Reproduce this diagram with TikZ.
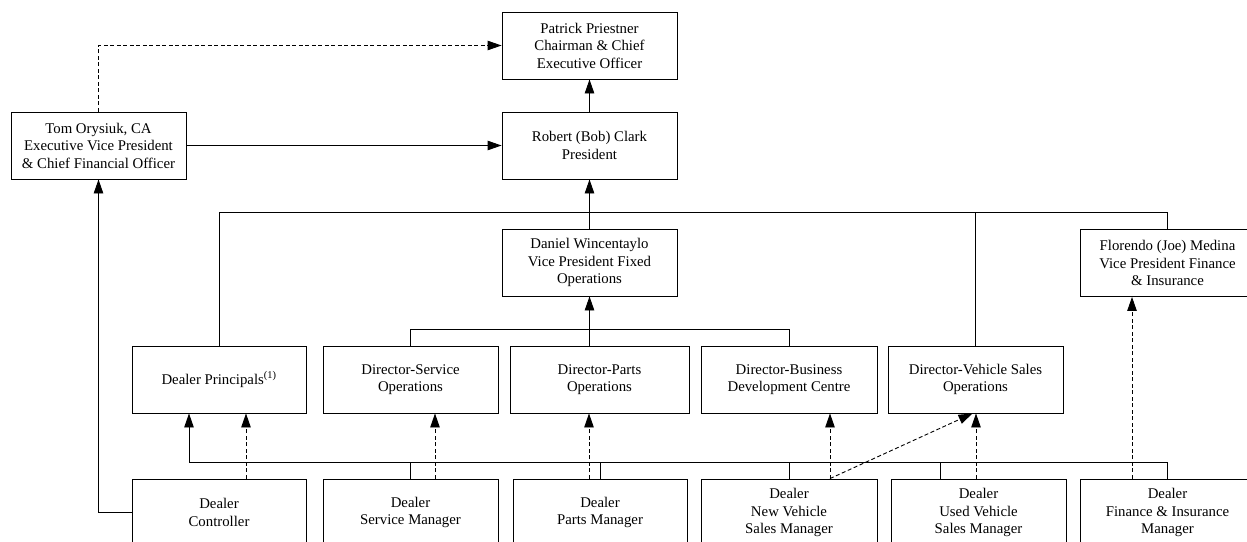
\documentclass[tikz,border=0pt]{standalone}
\usepackage{fontspec}
\setmainfont{Liberation Serif}
\newfontfamily\tmsfont{Liberation Serif}
\usetikzlibrary{arrows.meta,calc}
\begin{document}
\begin{tikzpicture}[x=1pt,y=-1pt,
  box/.style={draw,line width=0.9pt,minimum height=67pt,inner sep=0pt,align=center,
    font=\tmsfont\fontsize{14.8}{17.5}\selectfont},
  conn/.style={line width=0.9pt},
  arr/.style={conn,-{Triangle[length=14pt,width=9.5pt]}},
  dsh/.style={arr,dash pattern=on 4pt off 2.5pt}]
\useasboundingbox (0,0) rectangle (1247,541);
\clip (0,0) rectangle (1247,541);
% nodes
\node[box,minimum width=175pt] (pat) at (589.5,45.5) {Patrick Priestner\\Chairman \& Chief\\Executive Officer};
\node[box,minimum width=175pt] (rob) at (589.5,145.5) {Robert (Bob) Clark\\President};
\node[box,minimum width=175pt] (tom) at (98.5,145.5) {Tom Orysiuk, CA\\Executive Vice President\\\& Chief Financial Officer};
\node[box,minimum width=175pt] (dan) at (589.5,262.5) {Daniel Wincentaylo\\Vice President Fixed\\Operations};
\node[box,minimum width=175pt] (flo) at (1167.5,263) {Florendo (Joe) Medina\\Vice President Finance\\\& Insurance};
\node[box,minimum width=174pt] (dp) at (219,379.5) {Dealer Principals\textsuperscript{(1)}};
\node[box,minimum width=175pt] (dso) at (410.5,379.5) {Director-Service\\Operations};
\node[box,minimum width=179pt] (dpo) at (599.5,379.5) {Director-Parts\\Operations};
\node[box,minimum width=176pt] (dbd) at (789,379.5) {Director-Business\\Development Centre};
\node[box,minimum width=175pt] (dvs) at (975.5,379.5) {Director-Vehicle Sales\\Operations};
\node[box,minimum width=174pt] (dc) at (219,512.5) {Dealer\\Controller};
\node[box,minimum width=175pt] (dsm) at (410.5,512.5) {Dealer\\Service Manager};
\node[box,minimum width=174pt] (dpm) at (600,512.5) {Dealer\\Parts Manager};
\node[box,minimum width=176pt] (dnv) at (789,512.5) {Dealer\\New Vehicle\\Sales Manager};
\node[box,minimum width=175pt] (duv) at (978.5,512.5) {Dealer\\Used Vehicle\\Sales Manager};
\node[box,minimum width=175pt] (dfi) at (1167.5,512.5) {Dealer\\Finance \& Insurance\\Manager};
% helper coordinates
\coordinate (tb) at (0,212);
\coordinate (mb) at (0,329);
\coordinate (lb) at (0,462);
\coordinate (dpa) at ($(dp.south)+(-30,0)$);
\coordinate (uvt) at ($(duv.north)+(-38.5,0)$);
% top connectors
\draw[dsh] (tom.north) |- (pat.west);
\draw[arr] (tom.east) -- (rob.west);
\draw[arr] (rob.north) -- (pat.south);
\draw[arr] (dan.north) -- (rob.south);
\draw[conn] (dp.north) |- (tb -| flo.north) -- (flo.north);
\draw[conn] (dvs.north) -- (dvs.north |- tb);
% middle bus
\draw[conn] (dso.north) |- (mb -| dbd.north) -- (dbd.north);
\draw[arr] (dpo.north -| dan.south) -- (dan.south);
% bottom bus
\draw[arr] (dfi.north) |- (lb -| dpa) -- (dpa);
\draw[conn] (dsm.north) -- (dsm.north |- lb);
\draw[conn] (dpm.north) -- (dpm.north |- lb);
\draw[conn] (dnv.north) -- (dnv.north |- lb);
\draw[conn] (uvt) -- (uvt |- lb);
\draw[arr] (dc.west) -| (tom.south);
% dashed reporting lines
\coordinate (c1) at ($(dc.north)+(27,0)$);
\draw[dsh] (c1) -- (c1 |- dp.south);
\coordinate (c2) at ($(dsm.north)+(24.5,0)$);
\draw[dsh] (c2) -- (c2 |- dso.south);
\coordinate (c3) at ($(dpm.north)+(-11,0)$);
\draw[dsh] (c3) -- (c3 |- dpo.south);
\coordinate (c4) at ($(dnv.north)+(41,0)$);
\draw[dsh] (c4) -- (c4 |- dbd.south);
\draw[dsh] (c4) -- ($(dvs.south)+(-3,0)$);
\coordinate (c5) at ($(duv.north)+(-2.5,0)$);
\draw[dsh] (c5) -- (c5 |- dvs.south);
\coordinate (c6) at ($(dfi.north)+(-35.5,0)$);
\draw[dsh] (c6) -- (c6 |- flo.south);
\end{tikzpicture}
\end{document}
